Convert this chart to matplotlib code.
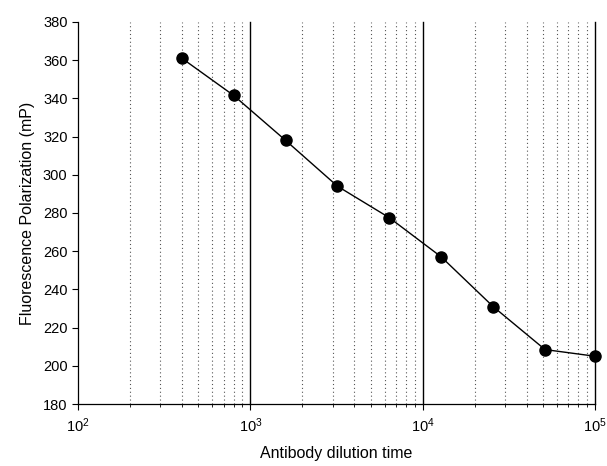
import numpy as np
import matplotlib.pyplot as plt
from matplotlib.ticker import FixedLocator

plt.rcParams['font.family'] = ['Liberation Sans', 'DejaVu Sans']

# datos
dilution = [400, 800, 1600, 3200, 6400, 12800, 25600, 51200, 100000]
fp_mp = [361, 341.5, 318, 294, 277.5, 257, 231, 208.5, 205]
y_ticks = [180, 200, 220, 240, 260, 280, 300, 320, 340, 360, 380]

fig = plt.figure(figsize=(6.07, 4.66), dpi=100)
ax = fig.add_axes([0.1285, 0.133, 0.852, 0.82])

ax.set_xscale('log')
ax.set_xlim(1e2, 1e5)
ax.set_ylim(180, 380)

# rejilla: punteada en menores, solida en decadas
minors = [m * 10**e for e in range(2, 5) for m in range(2, 10)]
for xv in minors:
    ax.axvline(xv, color='#555555', lw=0.8, ls=(0, (1, 2.5)), zorder=1)
for xv in [1e3, 1e4, 1e5]:
    ax.axvline(xv, color='black', lw=1.0, zorder=1, clip_on=False)

ax.plot(dilution, fp_mp, color='black', lw=1.0, marker='o', ms=8,
        mfc='black', mec='black', zorder=3, clip_on=False)

ax.set_yticks(y_ticks)
ax.xaxis.set_major_locator(FixedLocator([1e2, 1e3, 1e4, 1e5]))
ax.xaxis.set_minor_locator(FixedLocator(minors))
ax.tick_params(axis='both', which='major', direction='out', length=4, width=0.8,
               labelsize=10.5, colors='black')
ax.tick_params(axis='x', which='minor', direction='out', length=2.5, width=0.6)
ax.tick_params(axis='x', pad=5)

for s in ['top', 'right']:
    ax.spines[s].set_visible(False)
for s in ['left', 'bottom']:
    ax.spines[s].set_linewidth(0.9)

ax.set_xlabel('Antibody dilution time', fontsize=11.5, labelpad=8)
ax.set_ylabel('Fluorescence Polarization (mP)', fontsize=11.5, labelpad=6)

plt.savefig('out.png', dpi=100)
